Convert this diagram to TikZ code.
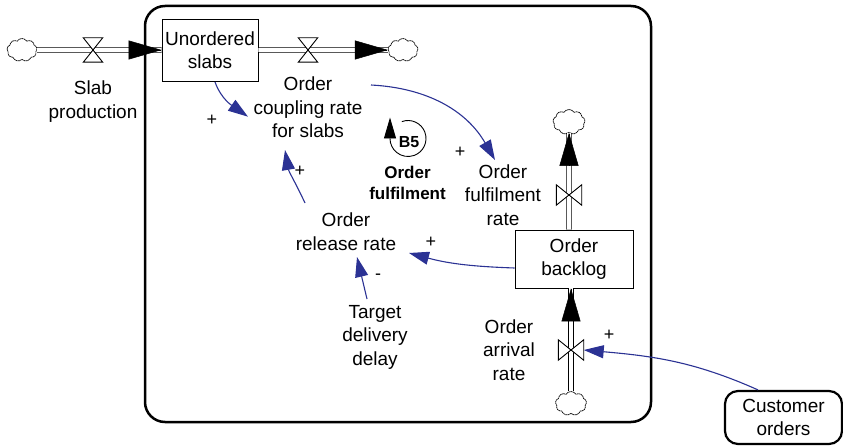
\documentclass[tikz,border=0pt]{standalone}
\usepackage{fontspec}
\setmainfont{Liberation Sans}
\usetikzlibrary{arrows.meta,shapes.symbols,calc}
\definecolor{linkblue}{RGB}{43,50,148}
\newcommand{\lblfont}{\fontsize{19}{23.5}\selectfont}
\newcommand{\bldfont}{\fontsize{17}{21}\selectfont\bfseries}
\begin{document}
\begin{tikzpicture}[x=1pt,y=1pt,
  txt/.style={align=center,inner sep=0pt,font=\lblfont},
  stock/.style={draw,line width=0.9pt,minimum width=96pt,minimum height=62pt,align=center,inner sep=0pt,font=\lblfont},
  cloudy/.style={cloud,cloud puffs=9,cloud puff arc=115,aspect=1.3,draw,line width=0.7pt,dash pattern=on 1.6pt off 0.5pt,minimum width=30pt,minimum height=23pt,inner sep=0pt},
  pipe/.style={draw,double,double distance=3.6pt,line width=0.9pt},
  pipetip/.style={-{Triangle[length=33pt,width=19pt]},line width=0.5pt},
  hv/.style={minimum width=19pt,minimum height=24pt,inner sep=0pt},
  vv/.style={minimum width=25pt,minimum height=20pt,inner sep=0pt},
  valvefill/.style={draw,fill=white,line width=0.9pt},
  link/.style={draw=linkblue,line width=1.1pt,-{Triangle[length=20pt,width=13pt]}},
  sign/.style={font=\fontsize{18}{18}\selectfont,inner sep=0pt}
]
\useasboundingbox (0,0) rectangle (843,445);
% boundary
\draw[line width=2.5pt,rounded corners=20pt] (145,23) rectangle (651,439);

% stocks, clouds, valves
\node[stock] (slabs) at (210,395) {Unordered\\slabs};
\node[cloudy] (cL) at (22,395) {};
\node[cloudy] (cR) at (403,395) {};
\node[hv] (v1) at (93,395) {};
\node[hv] (v2) at (308,395) {};
\node[stock,minimum width=118pt,minimum height=58pt] (back) at (574,186) {Order\\backlog};
\node[cloudy,minimum width=32pt,minimum height=25pt] (cT) at (569,323) {};
\node[cloudy,minimum width=31pt,minimum height=24pt] (cB) at (571,41.5) {};
\node[vv] (v3) at (569,250) {};
\node[vv] (v4) at (571,95) {};

% pipes
\draw[pipe] (cL.east) -- (slabs.west);
\draw[pipetip] ($(slabs.west)+(-1,0)$) -- (slabs.west);
\draw[pipe] (slabs.east) -- (cR.west);
\draw[pipetip] ($(cR.west)+(-1,0)$) -- (cR.west);
\draw[pipe] (back.north -| cT) -- (cT.south);
\draw[pipetip] ($(cT.south)+(0,-1)$) -- (cT.south);
\draw[pipe] (cB.north) -- (back.south -| cB);
\draw[pipetip] ($(back.south -| cB)+(0,-1)$) -- (back.south -| cB);

% valves
\draw[valvefill] (v1.north west) -- (v1.south east) -- (v1.south west) -- (v1.north east) -- cycle;
\draw[valvefill] (v2.north west) -- (v2.south east) -- (v2.south west) -- (v2.north east) -- cycle;
\draw[valvefill] (v3.north west) -- (v3.south east) -- (v3.north east) -- (v3.south west) -- cycle;
\draw[valvefill] (v4.north west) -- (v4.south east) -- (v4.north east) -- (v4.south west) -- cycle;

% labels
\node[txt] (sp) at (93,343.5) {Slab\\production};
\node[txt] (coup) at (308,337.5) {Order\\coupling rate\\for slabs};
\node[txt] (ofr) at (503,250) {Order\\fulfilment\\rate};
\node[txt] (rel) at (346,213.5) {Order\\release rate};
\node[txt] (tdd) at (375,108) {Target\\delivery\\delay};
\node[txt] (oar) at (509,95) {Order\\arrival\\rate};
\node[txt,draw,line width=2.2pt,rounded corners=13pt,minimum width=117pt,minimum height=53pt] (cust) at (783.5,27.5) {Customer\\orders};

% loop marker
\node[font=\fontsize{16}{16}\selectfont\bfseries,inner sep=0pt] (b5) at (409,302.5) {B5};
\coordinate (b5c) at (408,306.5);
\draw[line width=0.9pt,-{Triangle[length=21pt,width=12pt]}] ([shift={(110:18)}]b5c) arc[start angle=110,end angle=-180,radius=18] -- ++(0,21);
\node[txt,font=\bldfont] (ofl) at (407.5,262.5) {Order\\fulfilment};

% causal links
\draw[link] ([shift={(5,-32)}]slabs.center) to[out=-70,in=145] ([shift={(-60,-9.2)}]coup.center);
\draw[link] ([shift={(-41,28.5)}]rel.center) to[out=115,in=-80] ([shift={(-23,-42.5)}]coup.center);
\draw[link] ([shift={(63,22.5)}]coup.center) to[out=-3,in=120] ([shift={(-8,35)}]ofr.center);
\draw[link] ([yshift=-9]back.west) to[out=178,in=-15] ([shift={(63,-21.5)}]rel.center);
\draw[link] ([shift={(-8,38)}]tdd.center) -- ([shift={(11,-25.5)}]rel.center);
\draw[link] ([xshift=-25.5]cust.north) to[out=156,in=-5] (v4.east);

% polarities
\node[sign] (s1) at (212,325) {+};
\node[sign] (s2) at (300,274) {+};
\node[sign] (s3) at (460,293) {+};
\node[sign] (s4) at (431,203) {+};
\node[sign] (s5) at (378,168) {-};
\node[sign] (s6) at (609,110) {+};
\end{tikzpicture}
\end{document}
